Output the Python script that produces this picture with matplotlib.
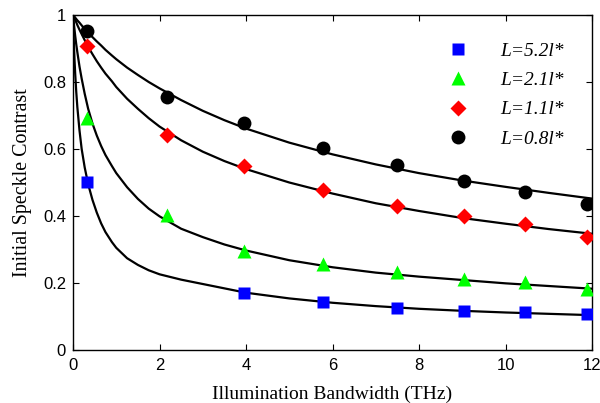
import numpy as np
import matplotlib
matplotlib.use('Agg')
import matplotlib.pyplot as plt

# measured points (bandwidth in THz, initial speckle contrast)
bw_meas = [0.32, 2.18, 3.96, 5.78, 7.5, 9.05, 10.44, 11.88]
bw_blue = [0.32, 3.96, 5.78, 7.5, 9.05, 10.44, 11.88]
c_52 = [0.500, 0.171, 0.142, 0.124, 0.117, 0.113, 0.106]
c_21 = [0.692, 0.403, 0.297, 0.257, 0.232, 0.212, 0.202, 0.183]
c_11 = [0.908, 0.643, 0.548, 0.478, 0.430, 0.401, 0.376, 0.336]
c_08 = [0.952, 0.754, 0.678, 0.604, 0.552, 0.505, 0.471, 0.436]

# fitted curves
bw_fit = [0, 0.01, 0.02, 0.035, 0.05, 0.075, 0.1, 0.15, 0.2, 0.27, 0.35, 0.45, 0.55,
          0.65, 0.75, 0.9, 1, 1.25, 1.5, 1.75, 2, 2.5, 3,
          3.5, 4, 5, 6, 7, 8, 9, 10, 11, 12]
fit_52 = [1.0, 0.955, 0.915, 0.865, 0.825, 0.77, 0.725, 0.655, 0.6, 0.545, 0.495,
          0.448, 0.41, 0.378, 0.352, 0.322, 0.305, 0.274, 0.254, 0.238, 0.226, 0.21, 0.197,
          0.184, 0.171, 0.154, 0.141, 0.131, 0.123, 0.117, 0.112, 0.108, 0.104]
fit_21 = [1.0, 0.987, 0.974, 0.956, 0.938, 0.912, 0.889, 0.846, 0.81, 0.765, 0.72,
          0.676, 0.64, 0.609, 0.582, 0.549, 0.528, 0.486, 0.451, 0.422, 0.399, 0.362, 0.337,
          0.315, 0.297, 0.268, 0.247, 0.231, 0.219, 0.209, 0.199, 0.191, 0.183]
fit_11 = [1.0, 0.997, 0.994, 0.99, 0.985, 0.978, 0.97, 0.956, 0.943, 0.925, 0.905,
          0.883, 0.862, 0.843, 0.825, 0.802, 0.785, 0.75, 0.72, 0.692, 0.667, 0.626, 0.592,
          0.564, 0.54, 0.5, 0.467, 0.438, 0.415, 0.394, 0.377, 0.361, 0.347]
fit_08 = [1.0, 0.998, 0.997, 0.995, 0.992, 0.988, 0.984, 0.977, 0.969, 0.958, 0.947,
          0.934, 0.921, 0.909, 0.896, 0.879, 0.868, 0.843, 0.821, 0.8, 0.781, 0.746, 0.714,
          0.686, 0.661, 0.619, 0.584, 0.554, 0.528, 0.506, 0.487, 0.469, 0.452]

labels = ['L=5.2l*', 'L=2.1l*', 'L=1.1l*', 'L=0.8l*']

fig = plt.figure(figsize=(6, 4.03), dpi=100)
ax = fig.add_axes([0.1217, 0.1315, 0.865, 0.8313])

for fit in [fit_52, fit_21, fit_11, fit_08]:
    ax.plot(bw_fit, fit, color='black', lw=1.6, zorder=2,
            solid_joinstyle='round')

ax.plot(bw_blue, c_52, 's', color='#0000ff', ms=8.5, mec='none', label=labels[0], zorder=3)
ax.plot(bw_meas, c_21, '^', color='#00ff00', ms=10, mec='none', label=labels[1], zorder=3)
ax.plot(bw_meas, c_11, 'D', color='#ff0000', ms=8, mec='none', label=labels[2], zorder=3)
ax.plot(bw_meas, c_08, 'o', color='black', ms=10, mec='none', label=labels[3], zorder=3)

ax.set_xlim(0, 12)
ax.set_ylim(0, 1)
ax.set_xticks(range(0, 13, 2))
ax.set_yticks([0, 0.2, 0.4, 0.6, 0.8, 1])
ax.set_yticklabels(['0', '0.2', '0.4', '0.6', '0.8', '1'])
ax.tick_params(direction='in', top=True, right=True, length=4, width=0.8,
               labelsize=12, pad=5)
ax.tick_params(axis='x', pad=6)
for lab in ax.get_xticklabels() + ax.get_yticklabels():
    lab.set_family('Liberation Sans')
for sp in ax.spines.values():
    sp.set_linewidth(1.0)

ax.set_xlabel('Illumination Bandwidth (THz)', family='Liberation Serif', fontsize=14,
              labelpad=9)
ax.set_ylabel('Initial Speckle Contrast', family='Liberation Serif', fontsize=14.4,
              labelpad=8)

leg = ax.legend(loc='upper right', bbox_to_anchor=(0.979, 0.971), frameon=False,
                prop={'family': 'Liberation Serif', 'style': 'italic', 'size': 14},
                handletextpad=1.15, labelspacing=0.6, numpoints=1, handlelength=2,
                borderpad=0.4)

fig.savefig('out.png', dpi=100)
